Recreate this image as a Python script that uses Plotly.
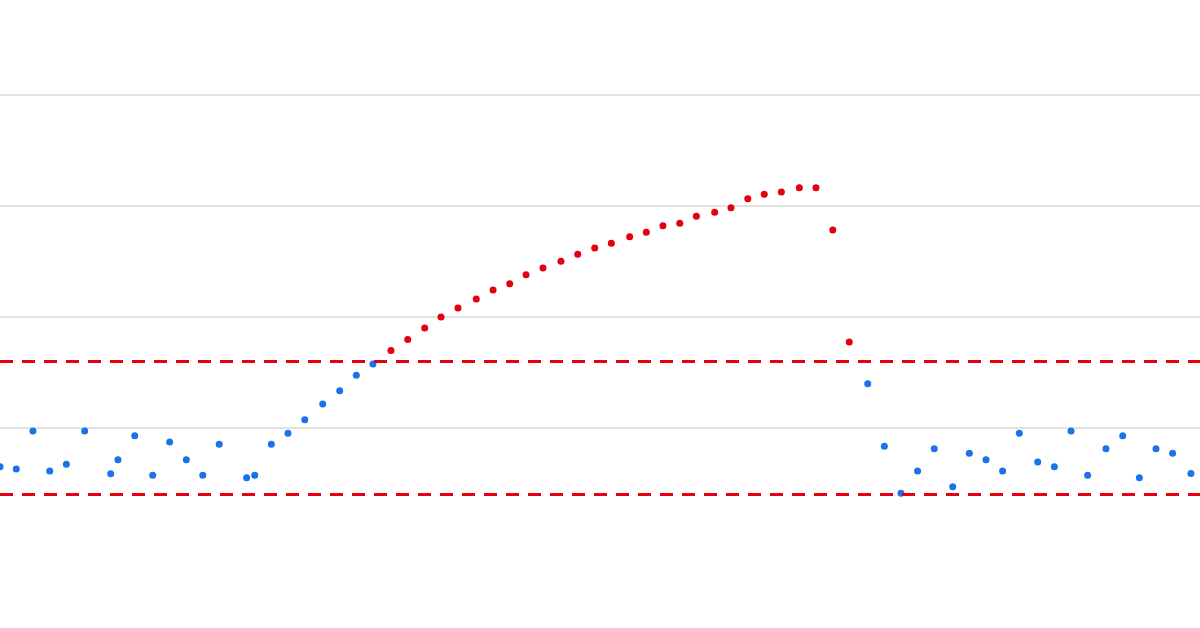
import plotly.graph_objects as go

# time index of each reading
t = [0, 0.97, 1.96, 2.96, 3.95, 5.04, 6.59, 7.02, 8.02, 9.09, 10.10, 11.09, 12.07, 13.05,
     14.68, 15.16, 16.15, 17.14, 18.14, 19.21, 20.22, 21.21, 22.20, 23.27, 24.27, 25.28,
     26.25, 27.26, 28.35, 29.35, 30.34, 31.31, 32.32, 33.39, 34.39, 35.40, 36.39, 37.48,
     38.47, 39.46, 40.46, 41.45, 42.54, 43.51, 44.51, 45.49, 46.51, 47.58, 48.57, 49.57,
     50.55, 51.65, 52.64, 53.63, 54.62, 55.61, 56.71, 57.70, 58.69, 59.68, 60.67, 61.77,
     62.76, 63.75, 64.74, 65.83, 66.83, 67.82, 68.81, 69.80, 70.89]

# measured values
values = [6.51, 6.31, 9.73, 6.13, 6.73, 9.73, 5.88, 7.14, 9.31, 5.74, 8.74, 7.14, 5.74, 8.53,
          5.52, 5.74, 8.53, 9.52, 10.75, 12.16, 13.36, 14.75, 15.77, 16.98, 17.97, 19.01,
          20.0, 20.81, 21.62, 22.43, 23.0, 23.81, 24.41, 25.02, 25.65, 26.22, 26.64, 27.23,
          27.63, 28.23, 28.44, 29.07, 29.43, 29.85, 30.66, 31.05, 31.26, 31.65, 31.65, 27.84,
          17.75, 13.99, 8.35, 4.12, 6.13, 8.14, 4.71, 7.72, 7.14, 6.13, 9.52, 6.94,
          6.51, 9.73, 5.74, 8.14, 9.31, 5.52, 8.14, 7.72, 5.91]

upper_limit = 16
lower_limit = 4
grid_vals = [10, 20, 30, 40]

blue = "#1a73e8"
red = "#e3000f"

colors = [red if (v > upper_limit or v < lower_limit) else blue for v in values]

fig = go.Figure()
fig.add_trace(go.Scatter(x=t, y=values, mode="markers",
                         marker=dict(color=colors, size=7, line=dict(width=0)),
                         showlegend=False, hoverinfo="x+y"))

x_end = 1200 / 16.8
for lim in [upper_limit, lower_limit]:
    fig.add_trace(go.Scatter(x=[0, x_end], y=[lim, lim], mode="lines",
                             line=dict(color=red, width=3, dash="13px,9px"),
                             showlegend=False, hoverinfo="skip"))

fig.update_layout(width=1200, height=628, margin=dict(l=0, r=0, t=0, b=0),
                  plot_bgcolor="white", paper_bgcolor="white")
fig.update_xaxes(range=[0, x_end], showgrid=False, zeroline=False, showticklabels=False,
                 showline=False)
fig.update_yaxes(range=[-8.02, 48.56], tickvals=grid_vals, showticklabels=False,
                 gridcolor="#e2e2e2", gridwidth=1.5, zeroline=False, showline=False)

# page body has a default 8px margin, drop it so the chart fills the window
fig.write_html("out.html", config={"displayModeBar": False},
               post_script="document.body.style.margin='0px';")
